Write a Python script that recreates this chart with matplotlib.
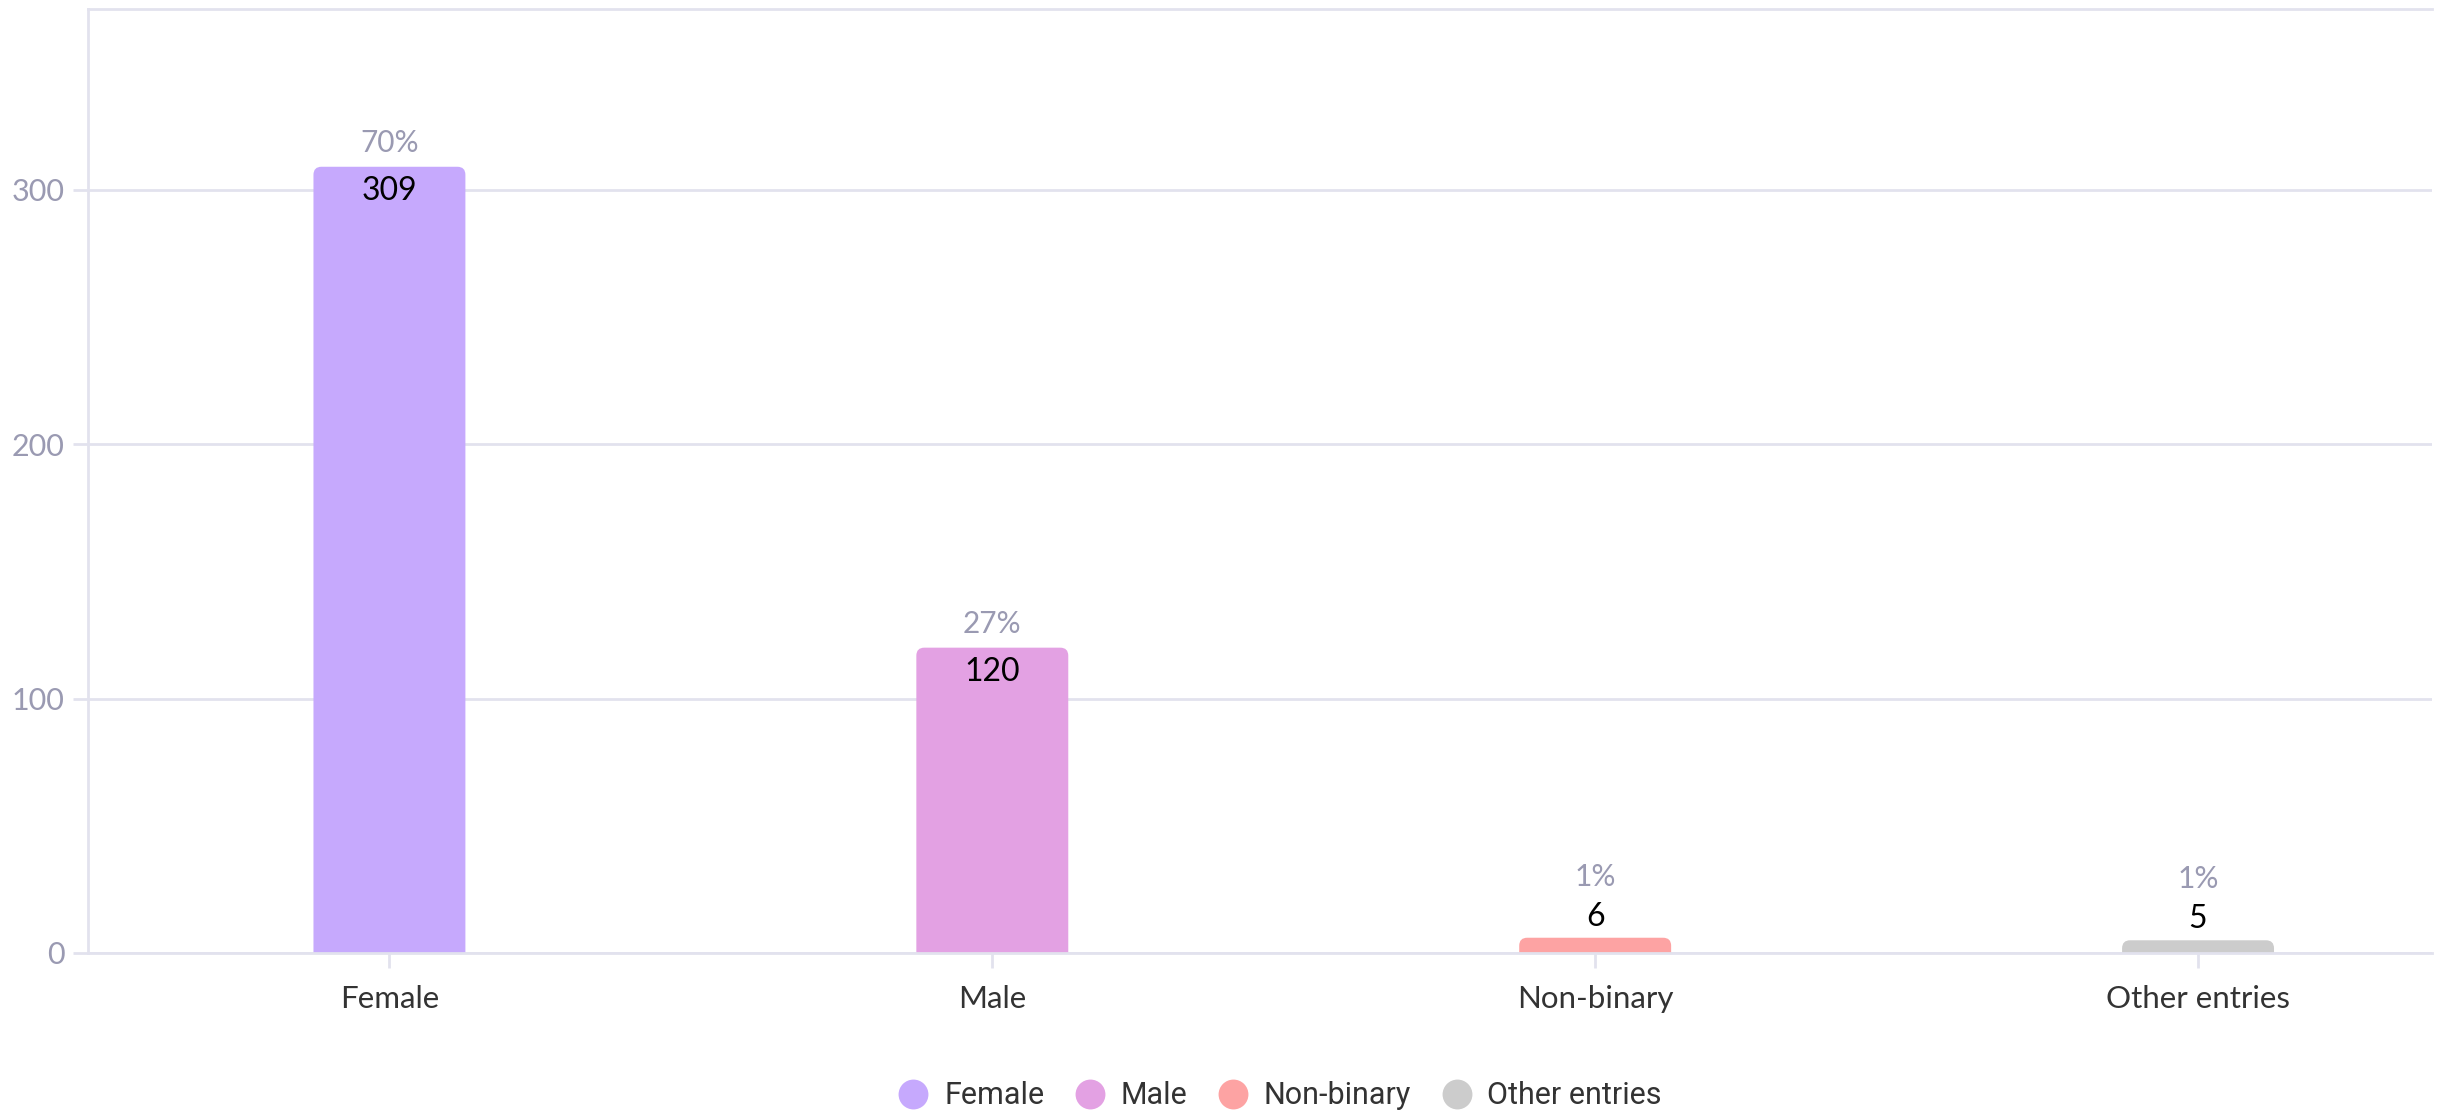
import matplotlib
matplotlib.use("Agg")
import matplotlib.pyplot as plt
from matplotlib.patches import FancyBboxPatch
from matplotlib.transforms import IdentityTransform
from matplotlib.lines import Line2D

categories = ["Female", "Male", "Non-binary", "Other entries"]
values = [309, 120, 6, 5]
percents = ["70%", "27%", "1%", "1%"]
colors = ["#c6a9fd", "#e3a1e3", "#fda3a3", "#cccccc"]
yticks = [0, 100, 200, 300]

GRID = "#e2e2ee"
TICK_GRAY = "#9a9ab2"
DPI = 100

plt.rcParams['font.family'] = ['Lato', 'DejaVu Sans']

fig = plt.figure(figsize=(24.4, 11.15), dpi=DPI)
ax = fig.add_axes([88/2440, (1115-953)/1115, (2432-88)/2440, (953-9)/1115])

x = list(range(len(categories)))
bars = ax.bar(x, values, width=0.252, color=colors, zorder=2)

ax.set_ylim(0, 371)
ax.set_xlim(-0.5, (2432-389)/603.0)
ax.set_yticks(yticks)
ax.set_yticklabels([str(t) for t in yticks])
ax.set_xticks(x)
ax.set_xticklabels(categories)

ax.grid(axis='y', color=GRID, linewidth=2, zorder=0)
ax.spines['right'].set_visible(False)
for s in ['left', 'top', 'bottom']:
    ax.spines[s].set_color(GRID)
    ax.spines[s].set_linewidth(2)
    ax.spines[s].set_zorder(3)
ax.tick_params(axis='y', colors=GRID, labelcolor=TICK_GRAY, labelsize=22, length=11, width=2, pad=6)
ax.tick_params(axis='x', colors=GRID, labelcolor="#333333", labelsize=22.5, length=11, width=2, pad=12)

fig.canvas.draw()
# rounded-top bars drawn in display coordinates from the bars' data positions
r = 8
for b in bars:
    x0, y0 = ax.transData.transform((b.get_x(), 0))
    x1, y1 = ax.transData.transform((b.get_x() + b.get_width(), b.get_height()))
    p = FancyBboxPatch((x0, y0 - r - 2), x1 - x0, (y1 - y0) + r + 2,
                       boxstyle=f"round,pad=0,rounding_size={r}",
                       transform=IdentityTransform(), facecolor=b.get_facecolor(),
                       edgecolor='none', zorder=2)
    p.set_clip_box(ax.bbox)
    p.set_clip_on(True)
    ax.add_artist(p)
    b.set_visible(False)

px_per_unit = (ax.transData.transform((0, 100))[1] - ax.transData.transform((0, 0))[1]) / 100.0
k = 72 / DPI
for xi, v, pc in zip(x, values, percents):
    top_px = v * px_per_unit
    if top_px > 60:
        ax.annotate(str(v), (xi, v), xytext=(0, -24 * k), textcoords='offset points',
                    ha='center', va='center', fontsize=23, color='black', zorder=4)
        ax.annotate(pc, (xi, v), xytext=(0, 24 * k), textcoords='offset points',
                    ha='center', va='center', fontsize=21.5, color=TICK_GRAY, zorder=4)
    else:
        ax.annotate(str(v), (xi, v), xytext=(0, 21 * k), textcoords='offset points',
                    ha='center', va='center', fontsize=23, color='black', zorder=4)
        ax.annotate(pc, (xi, v), xytext=(0, 61 * k), textcoords='offset points',
                    ha='center', va='center', fontsize=21.5, color=TICK_GRAY, zorder=4)

handles = [Line2D([], [], marker='o', linestyle='none', markersize=21.5,
                  markerfacecolor=c, markeredgecolor='none') for c in colors]
leg = fig.legend(handles, categories, loc='center', bbox_to_anchor=(1280/2440, 19/1115),
                 ncol=4, frameon=False, handlelength=1.0, handletextpad=0.5,
                 columnspacing=1.0, prop={'family': ['Roboto', 'DejaVu Sans'], 'size': 22})
for t in leg.get_texts():
    t.set_color("#333333")

fig.savefig("out.png", dpi=DPI)
